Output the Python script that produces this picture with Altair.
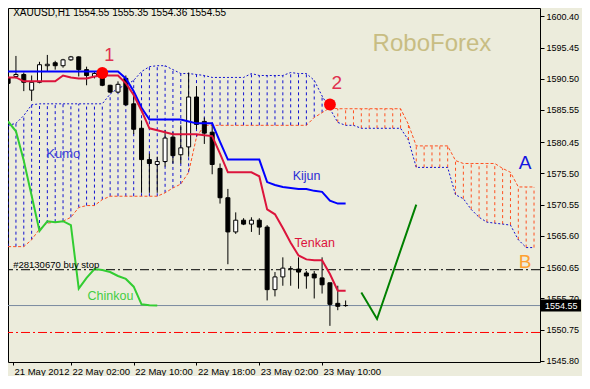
import altair as alt
import pandas as pd

# ---------------- data ----------------
opens = [1590.71, 1590.87, 1591.18, 1588.70, 1589.94, 1592.57, 1593.04, 1592.57, 1593.50, 1593.97,
         1591.95, 1590.87, 1591.18, 1589.47, 1588.39, 1590.56, 1586.53, 1582.65, 1577.69, 1576.91,
         1577.38, 1581.25, 1578.46, 1579.70, 1587.61, 1583.74, 1582.03, 1576.29, 1571.64, 1566.22,
         1568.08, 1567.46, 1568.08, 1566.99, 1557.07, 1559.09, 1560.33, 1560.33, 1559.71, 1559.55,
         1558.93, 1558.16, 1554.90, 1554.55]
highs = [1591.33, 1594.12, 1591.49, 1591.02, 1593.19, 1594.28, 1593.35, 1593.66, 1594.12, 1594.05,
         1592.42, 1591.64, 1591.80, 1589.55, 1590.09, 1591.02, 1588.54, 1583.89, 1578.62, 1578.15,
         1582.34, 1582.03, 1583.12, 1591.49, 1589.32, 1584.36, 1583.27, 1577.07, 1573.04, 1569.32,
         1568.40, 1568.54, 1568.39, 1567.30, 1559.86, 1562.19, 1560.79, 1562.19, 1560.02, 1560.02,
         1562.19, 1558.16, 1557.69, 1555.35]
lows = [1587.77, 1590.56, 1588.54, 1586.99, 1589.78, 1591.64, 1591.95, 1592.26, 1593.35, 1590.87,
        1589.47, 1590.56, 1589.32, 1588.23, 1588.23, 1586.22, 1581.72, 1572.42, 1572.42, 1572.42,
        1576.60, 1577.07, 1577.07, 1578.15, 1582.50, 1580.17, 1575.36, 1570.71, 1561.10, 1565.91,
        1567.30, 1566.22, 1565.75, 1555.36, 1556.00, 1557.69, 1557.69, 1557.22, 1557.22, 1555.67,
        1556.45, 1551.33, 1553.81, 1554.36]
closes = [1589.78, 1591.18, 1589.94, 1589.94, 1592.73, 1592.80, 1592.57, 1593.50, 1593.97, 1591.95,
          1591.02, 1591.33, 1589.47, 1588.39, 1589.62, 1586.37, 1582.50, 1577.69, 1577.07, 1577.38,
          1581.10, 1578.31, 1579.55, 1587.61, 1583.27, 1581.88, 1576.91, 1571.64, 1566.22, 1568.08,
          1567.46, 1568.08, 1566.99, 1557.07, 1559.09, 1560.48, 1560.40, 1559.86, 1559.24, 1558.93,
          1557.84, 1554.74, 1554.43, 1554.55]

tenkan = [1590.71, 1590.71, 1590.09, 1590.09, 1590.09, 1590.09, 1590.09, 1591.02, 1590.71, 1590.56,
          1590.56, 1590.87, 1591.02, 1591.02, 1591.02, 1589.78, 1587.92, 1585.44, 1582.65, 1582.34,
          1582.03, 1581.72, 1581.72, 1581.72, 1581.72, 1581.56, 1581.41, 1578.62, 1575.67, 1575.67,
          1575.67, 1575.67, 1575.05, 1569.78, 1569.01, 1566.84, 1564.51, 1562.49, 1561.87, 1561.72,
          1561.72, 1559.55, 1556.91, 1556.91]
kijun = [1591.64] * 15 + [1590.56, 1588.54, 1585.91, 1584.05, 1584.05, 1584.05, 1584.05, 1584.05,
         1583.74, 1583.43, 1583.43, 1583.43, 1580.48, 1577.69, 1577.69, 1577.69, 1577.69, 1577.69,
         1574.12, 1573.66, 1573.35, 1573.19, 1573.04, 1573.04, 1572.73, 1572.57, 1571.18, 1570.71,
         1570.71]
chinkou = [1583.74, 1582.18, 1577.50, 1571.95, 1566.37, 1567.92, 1567.77, 1567.92, 1567.30, 1557.22,
           1558.93, 1560.33, 1560.17, 1559.86, 1559.24, 1558.77, 1557.54, 1554.74, 1554.59, 1554.55]

span_a = [1583.12, 1583.43, 1584.67, 1586.37, 1586.53, 1586.53, 1586.53, 1586.53, 1586.53, 1586.53,
          1586.53, 1586.53, 1586.53, 1588.08, 1589.01, 1589.47, 1590.25, 1591.64, 1592.42, 1592.57,
          1592.57, 1591.95, 1591.33, 1591.33, 1591.18, 1591.02, 1590.71, 1590.71, 1590.71, 1590.71,
          1590.71, 1591.33, 1591.02, 1591.02, 1591.02, 1591.02, 1591.49, 1591.33, 1591.33, 1590.25,
          1587.77, 1585.75, 1583.58, 1583.12, 1583.12, 1582.65, 1582.65, 1582.65, 1582.65, 1582.65,
          1582.65, 1580.79, 1576.45, 1576.45, 1576.45, 1576.45, 1576.45, 1572.11, 1571.49, 1569.78,
          1568.54, 1567.77, 1567.61, 1567.46, 1567.30, 1564.98, 1563.74, 1563.74]
span_b = [1563.89, 1563.89, 1563.89, 1564.98, 1566.68, 1567.61, 1567.77, 1567.92, 1568.54, 1570.09,
          1570.40, 1570.40, 1571.34, 1571.88, 1571.88, 1571.88, 1571.88, 1571.88, 1571.88, 1571.88,
          1572.42, 1573.19, 1573.81, 1575.67, 1581.25, 1583.12, 1583.12, 1583.12, 1583.12, 1583.12,
          1583.12, 1583.12, 1583.12, 1583.12, 1583.12, 1583.12, 1583.12, 1583.12, 1583.12, 1584.36,
          1585.13, 1585.91, 1585.75, 1585.75, 1585.75, 1585.75, 1585.75, 1585.75, 1585.75, 1585.75,
          1585.75, 1583.27, 1579.86, 1579.86, 1579.86, 1579.86, 1579.86, 1577.53, 1577.07, 1577.07,
          1577.07, 1577.07, 1577.07, 1576.29, 1575.67, 1573.35, 1573.35, 1573.35]

forecast_x = [45, 47, 52]
forecast_p = [1556.60, 1552.42, 1570.56]
marker_x = [12, 41]
marker_p = [1591.41, 1586.42]

buy_stop = 1560.23
stop_red = 1550.28
last_price = 1554.55

x_tick_pos = [0.625, 8, 16, 24, 32, 40]
x_tick_labels = ["21 May 2012", "22 May 02:00", "22 May 10:00", "22 May 18:00",
                 "23 May 02:00", "23 May 10:00"]
y_ticks = [1600.40, 1595.45, 1590.50, 1585.55, 1580.45, 1575.50, 1570.55, 1565.60,
           1560.65, 1555.70, 1550.75, 1545.80]

X_DOMAIN = [0.625, 67.125]
Y_DOMAIN = [1545.60, 1601.72]
PLOT_W = 532
PLOT_H = 354

FONT = "Liberation Sans"
BG = "#ECECDC"

# ---------------- tables ----------------
candles = pd.DataFrame({"i": list(range(len(opens))), "open": opens, "high": highs,
                        "low": lows, "close": closes})
candles["blo"] = candles[["open", "close"]].min(axis=1)
candles["bhi"] = candles[["open", "close"]].max(axis=1)
candles["fill"] = ["#000000" if c < o else "#FFFFFF" for o, c in zip(opens, closes)]

lines_df = pd.DataFrame({"i": list(range(len(tenkan))), "tenkan": tenkan, "kijun": kijun})
chinkou_df = pd.DataFrame({"i": list(range(len(chinkou))), "p": chinkou})
cloud = pd.DataFrame({"i": list(range(len(span_a))), "a": span_a, "b": span_b})
cloud["lo"] = cloud[["a", "b"]].min(axis=1)
cloud["hi"] = cloud[["a", "b"]].max(axis=1)
cloud["hatch"] = ["#1010D0" if a >= b else "#FF5020" for a, b in zip(span_a, span_b)]

forecast_df = pd.DataFrame({"i": forecast_x, "p": forecast_p})
markers_df = pd.DataFrame({"i": marker_x, "p": marker_p})

label_expr = " : ".join(
    [f"datum.value < {p + 0.5} ? '{l}'" for p, l in zip(x_tick_pos, x_tick_labels)]
) + " : ''"

xs = alt.Scale(domain=X_DOMAIN, nice=False, zero=False)
ys = alt.Scale(domain=Y_DOMAIN, nice=False, zero=False)
x_axis = alt.Axis(values=x_tick_pos, labelExpr=label_expr, domain=False, grid=False,
                  ticks=True, tickSize=3, tickColor="black", labelAlign="left",
                  labelBaseline="top", labelPadding=1, labelOffset=1, labelFlush=False,
                  labelOverlap=False, labelFont=FONT, labelFontSize=9.5, labelColor="black")
y_axis = alt.Axis(orient="right", values=y_ticks, format=".2f", domain=False, grid=False,
                  ticks=True, tickSize=4, tickColor="black", labelPadding=2,
                  labelOverlap=False, labelFlush=False, labelFont=FONT, labelFontSize=9,
                  labelColor="black")


def X(f):
    return alt.X(f"{f}:Q", scale=xs, axis=x_axis, title=None)


def Y(f):
    return alt.Y(f"{f}:Q", scale=ys, axis=y_axis, title=None)


hatch = alt.Chart(cloud).mark_rule(strokeDash=[3, 3], strokeWidth=1, clip=True).encode(
    x=X("i"), y=Y("lo"), y2=alt.Y2("hi:Q"), color=alt.Color("hatch:N", scale=None))
span_a_line = alt.Chart(cloud).mark_line(color="#1010D0", strokeDash=[2, 2], strokeWidth=1,
                                         clip=True).encode(x=X("i"), y=Y("a"))
span_b_line = alt.Chart(cloud).mark_line(color="#FF5020", strokeDash=[3, 2], strokeWidth=1,
                                         clip=True).encode(x=X("i"), y=Y("b"))

buy_rule = alt.Chart(pd.DataFrame({"p": [buy_stop]})).mark_rule(
    color="black", strokeDash=[9, 3, 2, 3], strokeWidth=1).encode(y=Y("p"))
red_rule = alt.Chart(pd.DataFrame({"p": [stop_red]})).mark_rule(
    color="#FF0000", strokeDash=[9, 3, 2, 3], strokeWidth=1).encode(y=Y("p"))
price_rule = alt.Chart(pd.DataFrame({"p": [last_price]})).mark_rule(
    color="#7A8BA0", strokeWidth=1).encode(y=Y("p"))

wicks = alt.Chart(candles).mark_rule(color="black", strokeWidth=1, clip=True).encode(
    x=X("i"), y=Y("low"), y2=alt.Y2("high:Q"))
bodies = alt.Chart(candles).mark_bar(width=4, stroke="black", strokeWidth=1, clip=True).encode(
    x=X("i"), y=Y("blo"), y2=alt.Y2("bhi:Q"), fill=alt.Fill("fill:N", scale=None))

chinkou_line = alt.Chart(chinkou_df).mark_line(color="#32CD32", strokeWidth=2, clip=True).encode(
    x=X("i"), y=Y("p"))
kijun_line = alt.Chart(lines_df).mark_line(color="#0000FF", strokeWidth=2, clip=True).encode(
    x=X("i"), y=Y("kijun"))
tenkan_line = alt.Chart(lines_df).mark_line(color="#DC143C", strokeWidth=2, clip=True).encode(
    x=X("i"), y=Y("tenkan"))
forecast_line = alt.Chart(forecast_df).mark_line(color="#008000", strokeWidth=2).encode(
    x=X("i"), y=Y("p"))
marks = alt.Chart(markers_df).mark_circle(size=140, color="#FF0000", opacity=1).encode(
    x=X("i"), y=Y("p"))

left_labels = pd.DataFrame({
    "t": ["XAUUSD,H1  1554.55 1555.35 1554.36 1554.55", "#28130670 buy stop", "Kumo", "Kijun",
          "Tenkan", "Chinkou"],
    "i": [0.65, 0.65, 4.875, 36.25, 36.5, 10.125],
    "p": [1601.00, 1560.94, 1578.62, 1575.05, 1564.51, 1556.14],
    "s": [10, 9.5, 13, 12.5, 12.5, 12.5],
    "c": ["#000000", "#000000", "#3C3CD8", "#2B2BD6", "#DC143C", "#44CC44"],
})
center_labels = pd.DataFrame({
    "t": ["1", "2", "RoboForex", "A", "B"],
    "i": [12.875, 41.875, 54.0, 65.875, 65.875],
    "p": [1594.12, 1589.78, 1595.98, 1577.07, 1561.41],
    "s": [18, 19, 24, 19, 19],
    "c": ["#E0304E", "#E0304E", "#C8BD83", "#1515E0", "#FFA030"],
})
left_text = alt.Chart(left_labels).mark_text(align="left", baseline="middle", font=FONT).encode(
    x=X("i"), y=Y("p"), text="t:N", color=alt.Color("c:N", scale=None),
    size=alt.Size("s:Q", scale=None))
center_text = alt.Chart(center_labels).mark_text(align="center", baseline="middle",
                                                 font=FONT).encode(
    x=X("i"), y=Y("p"), text="t:N", color=alt.Color("c:N", scale=None),
    size=alt.Size("s:Q", scale=None))

box_df = pd.DataFrame({"top": [1555.50], "bot": [1553.60], "p": [last_price],
                       "t": [f"{last_price:.2f}"]})
price_box = alt.Chart(box_df).mark_rect(color="black", clip=False).encode(
    x=alt.value(PLOT_W + 1), x2=alt.value(PLOT_W + 41), y=Y("top"), y2=alt.Y2("bot:Q"))
price_text = alt.Chart(box_df).mark_text(align="left", baseline="middle", font=FONT,
                                         fontSize=9, color="white", clip=False).encode(
    x=alt.value(PLOT_W + 5), y=Y("p"), text="t:N")

chart = alt.layer(
    hatch, span_a_line, span_b_line, buy_rule, red_rule, price_rule, wicks, bodies,
    chinkou_line, kijun_line, tenkan_line, forecast_line, marks, left_text, center_text,
    price_box, price_text,
).properties(
    width=PLOT_W, height=PLOT_H,
    autosize=alt.AutoSizeParams(type="none"),
    padding={"left": 0, "top": 0, "right": 42, "bottom": 14},
    background=BG,
).configure_view(stroke="black", strokeWidth=1).configure_axis(grid=False)

chart.save("out.html", embed_options={"renderer": "svg", "actions": False})
